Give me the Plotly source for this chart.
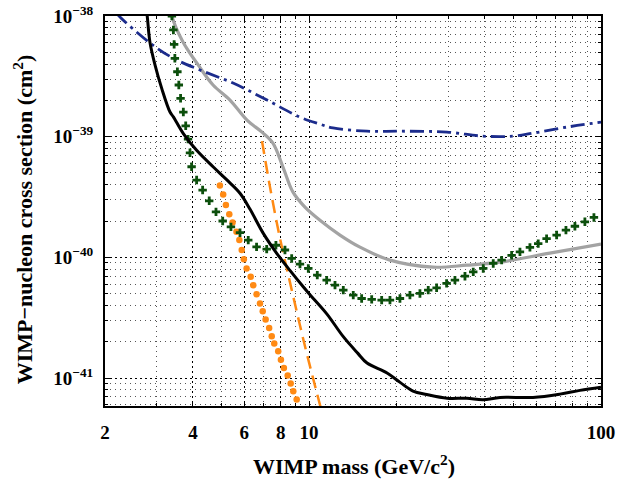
import plotly.graph_objects as go

# black solid limit
black_x = [2.76, 2.79, 2.85, 2.97, 3.13, 3.34, 3.43, 3.71, 4.12, 4.70, 5.22, 5.80, 6.28, 6.97,
           7.75, 8.60, 9.55, 10.07, 11.5, 13.1, 14.7, 15.8, 18.5, 20.5, 22.7, 25.3, 29.7, 34.7,
           39.4, 45.1, 58.5, 72.3, 84.7, 100]
black_y = [1.2e-38, 1.0e-38, 6.1e-39, 3.9e-39, 2.5e-39, 1.6e-39, 1.46e-39, 1.06e-39, 7.7e-40,
           5.6e-40, 4.4e-40, 3.4e-40, 2.5e-40, 1.58e-40, 1.08e-40, 7.8e-41, 5.7e-41, 4.9e-41,
           3.4e-41, 2.2e-41, 1.6e-41, 1.33e-41, 1.1e-41, 9.2e-42, 7.8e-42, 7.3e-42, 6.8e-42,
           6.8e-42, 6.6e-42, 6.9e-42, 6.9e-42, 7.35e-42, 7.9e-42, 8.4e-42]

# gray solid limit
gray_x = [3.36, 3.39, 3.70, 4.17, 4.69, 5.36, 6.13, 6.90, 7.52, 8.14, 8.81, 9.68, 10.9, 12.76,
          14.94, 18.93, 26.57, 34.74, 45.06, 66.8, 100]
gray_y = [1.2e-38, 1.0e-38, 6.09e-39, 3.93e-39, 2.68e-39, 2.01e-39, 1.37e-39, 1.09e-39, 8.85e-40,
          5.6e-40, 3.47e-40, 2.61e-40, 2.03e-40, 1.53e-40, 1.215e-40, 9.48e-41, 8.29e-41,
          8.61e-41, 9.13e-41, 1.083e-40, 1.287e-40]

# blue dash-dot limit
blue_x = [2.20, 2.234, 2.852, 3.42, 4.23, 5.49, 7.18, 9.31, 10.9, 12.07, 15.79, 20.48, 29.67,
          39.39, 49.93, 58.47, 76.4, 100]
blue_y = [1.05e-38, 1.0e-38, 5.97e-39, 4.48e-39, 3.57e-39, 2.78e-39, 2.01e-39, 1.45e-39,
          1.27e-39, 1.18e-39, 1.11e-39, 1.11e-39, 1.09e-39, 1.01e-39, 1.01e-39, 1.07e-39,
          1.2e-39, 1.32e-39]

# green crosses
green_x = [3.39, 3.43, 3.45, 3.47, 3.54, 3.58, 3.63, 3.71, 3.78, 3.85, 3.91, 3.96, 4.12, 4.32,
           4.55, 4.80, 5.06, 5.40, 5.80, 6.19, 6.61, 7.16, 7.70, 8.27, 8.72, 9.31, 9.94, 10.67,
           11.49, 12.27, 13.10, 14.17, 15.14, 16.39, 17.73, 18.93, 20.48, 22.16, 23.98, 25.60,
           27.35, 29.59, 31.60, 34.20, 36.51, 39.50, 42.74, 45.67, 49.42, 52.77, 57.09, 60.95,
           65.11, 70.47, 75.84, 81.40, 88.07, 94.58]
green_y = [1.0e-38, 7.66e-39, 5.82e-39, 4.46e-39, 3.45e-39, 2.68e-39, 2.08e-39, 1.60e-39,
           1.23e-39, 9.55e-40, 7.35e-40, 5.63e-40, 4.37e-40, 3.61e-40, 2.94e-40, 2.38e-40,
           2.00e-40, 1.79e-40, 1.60e-40, 1.39e-40, 1.22e-40, 1.17e-40, 1.26e-40, 1.15e-40,
           9.79e-41, 8.78e-41, 8.09e-41, 7.12e-41, 6.47e-41, 5.88e-41, 5.35e-41, 4.86e-41,
           4.56e-41, 4.48e-41, 4.42e-41, 4.42e-41, 4.56e-41, 4.86e-41, 5.02e-41, 5.35e-41,
           5.59e-41, 6.08e-41, 6.47e-41, 6.98e-41, 7.58e-41, 8.09e-41, 8.90e-41, 9.48e-41,
           1.04e-40, 1.11e-40, 1.21e-40, 1.30e-40, 1.43e-40, 1.53e-40, 1.68e-40, 1.81e-40,
           1.97e-40, 2.14e-40]

# orange dotted
odot_x = [4.95, 5.08, 5.19, 5.33, 5.47, 5.64, 5.77, 5.88, 5.98, 6.11, 6.31, 6.44, 6.61, 6.79,
          6.94, 7.10, 7.30, 7.45, 7.60, 7.84, 8.01, 8.20, 8.45, 8.65, 8.83, 9.07]
odot_y = [3.93e-40, 3.31e-40, 2.71e-40, 2.28e-40, 1.94e-40, 1.63e-40, 1.39e-40, 1.15e-40,
          9.66e-41, 8.09e-41, 6.89e-41, 5.88e-41, 4.95e-41, 4.15e-41, 3.58e-41, 3.06e-41,
          2.60e-41, 2.22e-41, 1.93e-41, 1.67e-41, 1.42e-41, 1.21e-41, 1.05e-41, 9.0e-42,
          7.77e-42, 6.63e-42]

# orange dashed
odash_x = [6.90, 7.35, 7.95, 8.60, 9.68, 11.0]
odash_y = [9.19e-40, 3.82e-40, 1.44e-40, 6.23e-41, 1.84e-41, 5.5e-42]

x_ticks = [2, 4, 6, 8, 10, 100]
x_minor = [3, 5, 7, 9, 20, 30, 40, 50, 60, 70, 80, 90]
y_ticks = [1e-41, 1e-40, 1e-39, 1e-38]
y_ticktext = ["10<sup>−41</sup>", "10<sup>−40</sup>", "10<sup>−39</sup>", "10<sup>−38</sup>"]
y_minor = [m * 10.0 ** e for e in (-42, -41, -40, -39) for m in range(2, 10)]

fig = go.Figure()

fig.add_trace(go.Scatter(x=gray_x, y=gray_y, mode='lines', line=dict(color='#a3a3a3', width=3.2, shape='spline')))
fig.add_trace(go.Scatter(x=blue_x, y=blue_y, mode='lines',
                         line=dict(color='#1c2c8c', width=2.8, dash='14px,5px,3px,5px', shape='spline')))
fig.add_trace(go.Scatter(x=odash_x, y=odash_y, mode='lines',
                         line=dict(color='#ff8a14', width=2.5, dash='13px,7px', shape='spline')))
fig.add_trace(go.Scatter(x=odot_x, y=odot_y, mode='markers',
                         marker=dict(color='#ff8a14', size=6.5, symbol='circle')))
fig.add_trace(go.Scatter(x=green_x, y=green_y, mode='markers',
                         marker=dict(color='#0c4f0c', size=7, symbol='cross')))
fig.add_trace(go.Scatter(x=black_x, y=black_y, mode='lines', line=dict(color='black', width=3, shape='spline')))

fig.update_layout(
    width=618, height=479,
    margin=dict(l=105, r=17, t=16, b=73),
    paper_bgcolor='white', plot_bgcolor='white',
    showlegend=False,
    font=dict(family='Liberation Serif', size=19, color='black', weight='bold'),
)

fig.update_xaxes(
    type='log', range=[0.30103, 2], automargin=False,
    tickvals=x_ticks, ticktext=[str(v) for v in x_ticks],
    ticks='inside', ticklen=5, tickcolor='black', ticklabeloverflow='allow',
    showline=True, linecolor='black', linewidth=2, mirror='allticks',
    showgrid=True, gridcolor='black', gridwidth=1.3, griddash='2px,3px',
    ticklabelstandoff=8,
    minor=dict(tickvals=x_minor, ticks='inside', ticklen=3, tickcolor='black',
               showgrid=True, gridcolor='#555555', gridwidth=1, griddash='1px,4px'),
    zeroline=False,
)
fig.update_yaxes(
    type='log', range=[-41.232, -38], automargin=False,
    tickvals=y_ticks, ticktext=y_ticktext,
    ticks='inside', ticklen=5, tickcolor='black', ticklabeloverflow='allow',
    showline=True, linecolor='black', linewidth=2, mirror='allticks',
    showgrid=True, gridcolor='black', gridwidth=1.3, griddash='2px,3px',
    ticklabelstandoff=6,
    minor=dict(tickvals=y_minor, ticks='inside', ticklen=3, tickcolor='black',
               showgrid=True, gridcolor='#555555', gridwidth=1, griddash='1px,4px'),
    zeroline=False,
)

fig.add_annotation(text='WIMP mass (GeV/c<sup>2</sup>)', xref='paper', yref='paper',
                   x=0.502, y=-0.152, showarrow=False, yanchor='middle', xanchor='center',
                   font=dict(size=22))
fig.add_annotation(text='WIMP−nucleon cross section (cm<sup>2</sup>)', xref='paper', yref='paper',
                   x=-0.165, y=0.479, showarrow=False, textangle=-90, xanchor='center', yanchor='middle',
                   font=dict(size=22))

# drop the default body margin so the figure sits at the page corner
fig.write_html('out.html', config={'displayModeBar': False},
               post_script="document.body.style.margin='0';")
